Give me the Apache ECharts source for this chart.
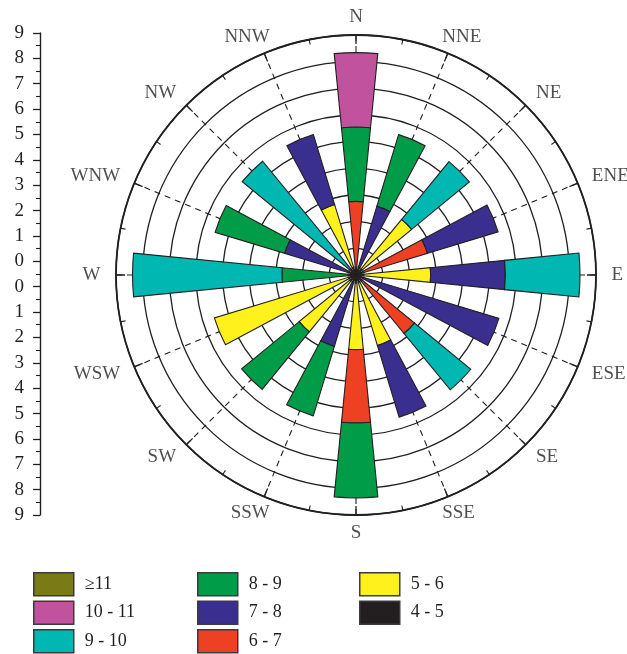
<!DOCTYPE html>
<html>
<head>
<meta charset="utf-8">
<script src="https://cdn.jsdelivr.net/npm/echarts@6/dist/echarts.min.js"></script>
<style>
html,body{margin:0;padding:0;background:#fff;}
#c{width:627px;height:654px;}
</style>
</head>
<body>
<div id="c"></div>
<script>
// ---- data ----
const directions = ['N','NNE','NE','ENE','E','ESE','SE','SSE','S','SSW','SW','WSW','W','WNW','NW','NNW'];
const leftTickLabels = ['9','8','7','6','5','4','3','2','1','0','0','1','2','3','4','5','6','7','8','9'];
const classNames = ['≥11','10 - 11','9 - 10','8 - 9','7 - 8','6 - 7','5 - 6','4 - 5'];
const classColors = ['#7a7a17','#c0529e','#00b7b1','#009c48','#3a2f8f','#ee4123','#fff11c','#231f20'];
//                    N     NNE   NE    ENE   E     ESE   SE    SSE   S     SSW   SW    WSW   W     WNW   NW    NNW
const v4_5   = [0.3,  0.3,  0.3,  0.3,  0.3,  0.3,  0.3,  0.3,  0.3,  0.3,  0.3,  0.3,  0.3,  0.3,  0.3,  0.3];
const v5_6   = [null, null, 2.4,  null, 2.5,  null, null, 2.46, 2.5,  null, 2.46, 5.25, null, null, null, 2.46];
const v6_7   = [2.46, null, null, 2.5,  null, null, 2.54, null, 2.75, null, null, null, null, null, null, null];
const v7_8   = [null, 2.4,  null, 2.77, 2.8,  5.3,  null, 2.81, null, 2.5,  null, null, null, 2.5,  null, 2.74];
const v8_9   = [2.79, 2.8,  null, null, null, null, null, null, 2.81, 2.72, 2.79, null, 2.48, 2.72, null, null];
const v9_10  = [null, null, 2.8,  null, 2.8,  null, 2.73, null, null, null, null, null, 5.6,  null, 5.22, null];
const v10_11 = [2.79, null, null, null, null, null, null, null, null, null, null, null, null, null, null, null];
const v11    = [null, null, null, null, null, null, null, null, null, null, null, null, null, null, null, null];

// ---- chart ----
const FONT = "'Liberation Serif','DejaVu Serif',serif";
const INK = '#231f20';
const CENTER = [356, 275];
const RADIUS = 240;
const LABEL_RADIUS = 258;

const stackOrder = [
  ['4 - 5', v4_5], ['5 - 6', v5_6], ['6 - 7', v6_7], ['7 - 8', v7_8],
  ['8 - 9', v8_9], ['9 - 10', v9_10], ['10 - 11', v10_11], ['≥11', v11]
];
const colorOf = n => classColors[classNames.indexOf(n)];

const barSeries = stackOrder.map(([name, vals]) => ({
  type: 'bar',
  name: name,
  coordinateSystem: 'polar',
  polarIndex: 0,
  stack: 'wind',
  barWidth: '50%',
  data: vals,
  itemStyle: { color: colorOf(name), borderColor: INK, borderWidth: 1.1 },
  emphasis: { disabled: true },
  silent: true,
  z: 3
}));

// label placement by compass sector (computed, not stored in data arrays)
function labelPlacement(i) {
  if (i === 0 || i === 8) return { position: 'inside' };
  const east = i < 8;
  const nearVertical = (i === 1 || i === 7 || i === 9 || i === 15);
  return { position: east ? 'right' : 'left', distance: nearVertical ? -13 : -3 };
}

const labelSeries = {
  type: 'scatter',
  name: 'dirLabels',
  coordinateSystem: 'polar',
  polarIndex: 2,
  symbol: 'circle',
  symbolSize: 1,
  itemStyle: { color: 'rgba(255,255,255,0)' },
  silent: true,
  data: directions.map((d, i) => ({ name: d, value: [1, i], label: labelPlacement(i) })),
  label: {
    show: true, formatter: '{b}',
    fontFamily: FONT, fontSize: 19, color: INK
  },
  labelLayout: { hideOverlap: false },
  z: 5
};

const legendCommon = {
  orient: 'vertical', top: 572, height: 200, padding: 0,
  itemWidth: 40, itemHeight: 23, itemGap: 4,
  icon: 'rect', selectedMode: false,
  itemStyle: { borderColor: '#3a3a3a', borderWidth: 1.5 },
  textStyle: { fontFamily: FONT, fontSize: 18, color: INK, padding: [0, 0, 0, 6] }
};

const option = {
  animation: false,
  backgroundColor: '#fff',
  color: classColors,
  legend: [
    Object.assign({}, legendCommon, { left: 33, data: classNames.slice(0, 3) }),
    Object.assign({}, legendCommon, { left: 197, data: classNames.slice(3, 6) }),
    Object.assign({}, legendCommon, { left: 359, data: classNames.slice(6, 8) })
  ],
  polar: [
    { center: CENTER, radius: RADIUS },
    { center: CENTER, radius: RADIUS },
    { center: CENTER, radius: LABEL_RADIUS }
  ],
  angleAxis: [
    {
      polarIndex: 0, type: 'category', data: directions,
      startAngle: 90 + 11.25, clockwise: true,
      axisLine: { show: false }, axisTick: { show: false },
      axisLabel: { show: false }, splitLine: { show: false }
    },
    {
      polarIndex: 1, type: 'value', min: 0, max: 360, interval: 22.5,
      startAngle: 90, clockwise: true,
      axisLine: { show: true, lineStyle: { color: INK, width: 1.8 } },
      axisTick: { show: true, inside: true, length: 9, lineStyle: { color: INK, width: 1.3 } },
      minorTick: { show: true, splitNumber: 2, length: 5, lineStyle: { color: INK, width: 1.1 } },
      axisLabel: { show: false },
      splitLine: { show: true, lineStyle: { color: INK, width: 1.1, type: [6, 5] } }
    },
    {
      polarIndex: 2, type: 'category', data: directions,
      startAngle: 90 + 11.25, clockwise: true,
      axisLine: { show: false }, axisTick: { show: false },
      axisLabel: { show: false }, splitLine: { show: false }
    }
  ],
  radiusAxis: [
    {
      polarIndex: 0, type: 'value', min: 0, max: 9,
      axisLine: { show: false }, axisTick: { show: false },
      axisLabel: { show: false }, splitLine: { show: false }
    },
    {
      polarIndex: 1, type: 'value', min: 0, max: 9, interval: 1,
      axisLine: { show: false }, axisTick: { show: false },
      axisLabel: { show: false },
      splitLine: { show: true, lineStyle: { color: INK, width: 1.3, type: 'solid' } }
    },
    {
      polarIndex: 2, type: 'value', min: 0, max: 1,
      axisLine: { show: false }, axisTick: { show: false },
      axisLabel: { show: false }, splitLine: { show: false }
    }
  ],
  grid: { left: 40, top: 33, width: 1, height: 482, outerBoundsMode: 'none', containLabel: false },
  xAxis: { type: 'value', show: false },
  yAxis: {
    type: 'value', min: 0, max: 19, interval: 1, inverse: true, position: 'left',
    axisLine: { show: true, lineStyle: { color: INK, width: 1.4 } },
    axisTick: { show: true, length: 7, lineStyle: { color: INK, width: 1.3 } },
    minorTick: { show: true, splitNumber: 2, length: 4, lineStyle: { color: INK, width: 1.1 } },
    splitLine: { show: false },
    axisLabel: {
      margin: 16, fontFamily: FONT, fontSize: 19, color: INK,
      formatter: v => leftTickLabels[v]
    }
  },
  series: barSeries.concat([labelSeries])
};

const chart = echarts.init(document.getElementById('c'), null, { renderer: 'canvas' });
chart.setOption(option);
</script>
</body>
</html>
